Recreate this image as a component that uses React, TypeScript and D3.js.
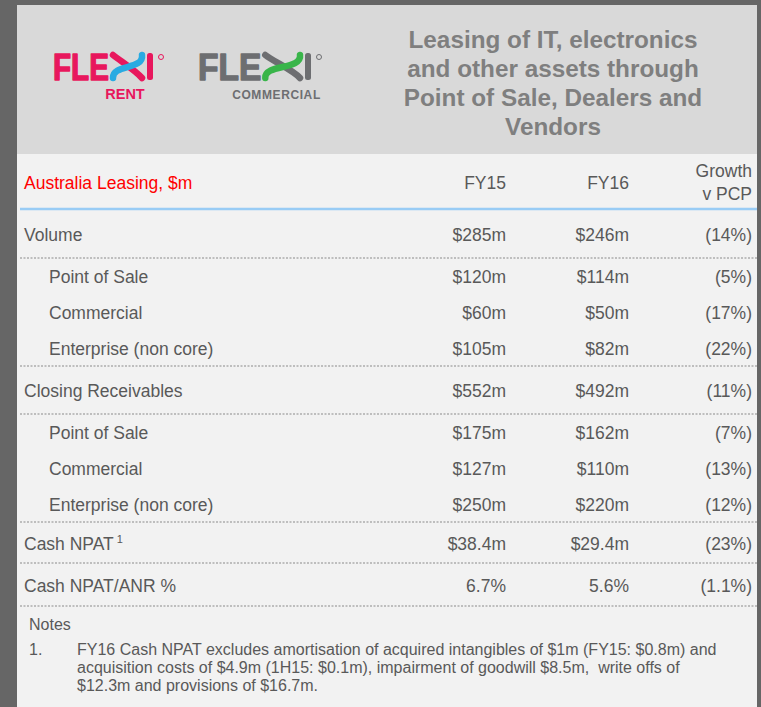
import React from "react";
import * as d3 from "d3";

// table content
const headerTitle = "Australia Leasing, $m";
const periods = ["FY15", "FY16"];
const growthHeader = ["Growth", "v PCP"];

const labels = [
  "Volume",
  "Point of Sale",
  "Commercial",
  "Enterprise (non core)",
  "Closing Receivables",
  "Point of Sale",
  "Commercial",
  "Enterprise (non core)",
  "Cash NPAT",
  "Cash NPAT/ANR %",
];
const isSub = [false, true, true, true, false, true, true, true, false, false];
const footnoteMark = ["", "", "", "", "", "", "", "", "1", ""];
const fy15 = ["$285m", "$120m", "$60m", "$105m", "$552m", "$175m", "$127m", "$250m", "$38.4m", "6.7%"];
const fy16 = ["$246m", "$114m", "$50m", "$82m", "$492m", "$162m", "$110m", "$220m", "$29.4m", "5.6%"];
const growth = ["(14%)", "(5%)", "(17%)", "(22%)", "(11%)", "(7%)", "(13%)", "(12%)", "(23%)", "(1.1%)"];

const titleLines = [
  "Leasing of IT, electronics",
  "and other assets through",
  "Point of Sale, Dealers and",
  "Vendors",
];

const notesTitle = "Notes";
const noteNumber = "1.";
const noteLines = [
  "FY16 Cash NPAT excludes amortisation of acquired intangibles of $1m (FY15: $0.8m) and",
  "acquisition costs of $4.9m (1H15: $0.1m), impairment of goodwill $8.5m,  write offs of",
  "$12.3m and provisions of $16.7m.",
];

// layout
const W = 761;
const H = 707;
const FONT = "'Liberation Sans', Arial, sans-serif";
const TEXT = "#595959";
const FS = 17.5;
const mainHeights = [49, 48, 41, 43];
const subHeight = 36;
const tableTop = 209;

const col = d3
  .scaleOrdinal<string, number>()
  .domain(["label", "fy15", "fy16", "growth"])
  .range([24, 506, 629, 752]);

const rows = (() => {
  let y = tableTop;
  let m = 0;
  return labels.map((label, i) => {
    const h = isSub[i] ? subHeight : mainHeights[m++];
    const r = { label, i, top: y, h };
    y += h;
    return r;
  });
})();

const Logo = ({ x, color, accent, sub, subColor, w }) => {
  // x: left edge; w: total width up to the I
  const fleW = w * 0.56;
  const xs = x + fleW + 3;
  const xe = x + w - 10;
  return (
    <g>
      <text
        x={x}
        y={80}
        fontFamily={FONT}
        fontWeight="bold"
        fontSize={37}
        fill={color}
        stroke={color}
        strokeWidth={1.4}
        strokeLinejoin="round"
        textLength={fleW}
        lengthAdjust="spacingAndGlyphs"
      >
        FLE
      </text>
      <path
        d={`M${xs + 1},55 C${xs + 10},62 ${xe - 8},70 ${xe - 1},78`}
        stroke={color}
        strokeWidth={6.5}
        fill="none"
        strokeLinecap="round"
      />
      <path
        d={`M${xe - 1},55 C${xe + 1},70 ${xs},64 ${xs + 1},78`}
        stroke={accent}
        strokeWidth={6.5}
        fill="none"
        strokeLinecap="round"
      />
      <rect x={x + w - 6} y={53} width={6} height={27} rx={2.5} fill={color} />
      <circle cx={x + w + 8} cy={57} r={2.5} fill="none" stroke={color} strokeWidth={1} />
      <text
        x={x + w / 2 + 22}
        y={99}
        textAnchor="middle"
        fontFamily={FONT}
        fontWeight="bold"
        fontSize={sub === "RENT" ? 14.5 : 12}
        fill={subColor}
        letterSpacing={sub === "RENT" ? 0 : 0.6}
      >
        {sub}
      </text>
    </g>
  );
};

export default function App() {
  return (
    <svg
      width={W}
      height={H}
      style={{ position: "absolute", left: 0, top: 0 }}
      fontFamily={FONT}
    >
      <rect width={W} height={H} fill="#666666" />
      <rect x={17} y={5} width={740} height={149} fill="#d9d9d9" />
      <rect x={17} y={154} width={740} height={H - 154} fill="#f2f2f2" />

      <Logo x={53} w={100} color="#e8175d" accent="#29abe2" sub="RENT" subColor="#e8175d" />
      <Logo x={198} w={113} color="#6d6e71" accent="#39b54a" sub="COMMERCIAL" subColor="#6d6e71" />

      {titleLines.map((t, i) => (
        <text
          key={i}
          x={553}
          y={48 + i * 29}
          textAnchor="middle"
          fontWeight="bold"
          fontSize={24.3}
          fill="#7f7f7f"
        >
          {t}
        </text>
      ))}

      {/* header row */}
      <text x={col("label")} y={189} fontSize={FS} fill="#ff0000">
        {headerTitle}
      </text>
      {periods.map((p, i) => (
        <text key={p} x={col(i === 0 ? "fy15" : "fy16")} y={189} fontSize={FS} fill={TEXT} textAnchor="end">
          {p}
        </text>
      ))}
      {growthHeader.map((g, i) => (
        <text key={g} x={col("growth")} y={177 + i * 23} fontSize={FS} fill={TEXT} textAnchor="end">
          {g}
        </text>
      ))}
      <line x1={20} x2={757} y1={tableTop} y2={tableTop} stroke="#99ccf5" strokeWidth={2.6} />

      {rows.map((r) => {
        const base = r.top + r.h / 2 + 7;
        const last = r.i === labels.length - 1;
        const sep = !isSub[r.i] || last || !isSub[r.i + 1];
        return (
          <g key={r.i}>
            <text x={col("label") + (isSub[r.i] ? 25 : 0)} y={base} fontSize={FS} fill={TEXT}>
              {r.label}
              {footnoteMark[r.i] && (
                <tspan dx={3} dy={-7} fontSize={11}>
                  {footnoteMark[r.i]}
                </tspan>
              )}
            </text>
            <text x={col("fy15")} y={base} fontSize={FS} fill={TEXT} textAnchor="end">
              {fy15[r.i]}
            </text>
            <text x={col("fy16")} y={base} fontSize={FS} fill={TEXT} textAnchor="end">
              {fy16[r.i]}
            </text>
            <text x={col("growth")} y={base} fontSize={FS} fill={TEXT} textAnchor="end">
              {growth[r.i]}
            </text>
            {sep && (
              <line
                x1={20}
                x2={757}
                y1={r.top + r.h}
                y2={r.top + r.h}
                stroke="#8a8a8a"
                strokeWidth={1}
                strokeDasharray="2 1.5"
              />
            )}
          </g>
        );
      })}

      {/* notes */}
      <text x={29} y={630} fontSize={16} fill={TEXT}>
        {notesTitle}
      </text>
      <text x={29} y={655} fontSize={16} fill={TEXT}>
        {noteNumber}
      </text>
      {noteLines.map((t, i) => (
        <text key={i} x={77} y={655 + i * 18} fontSize={16} fill={TEXT} style={{ whiteSpace: "pre" }}>
          {t}
        </text>
      ))}
    </svg>
  );
}
